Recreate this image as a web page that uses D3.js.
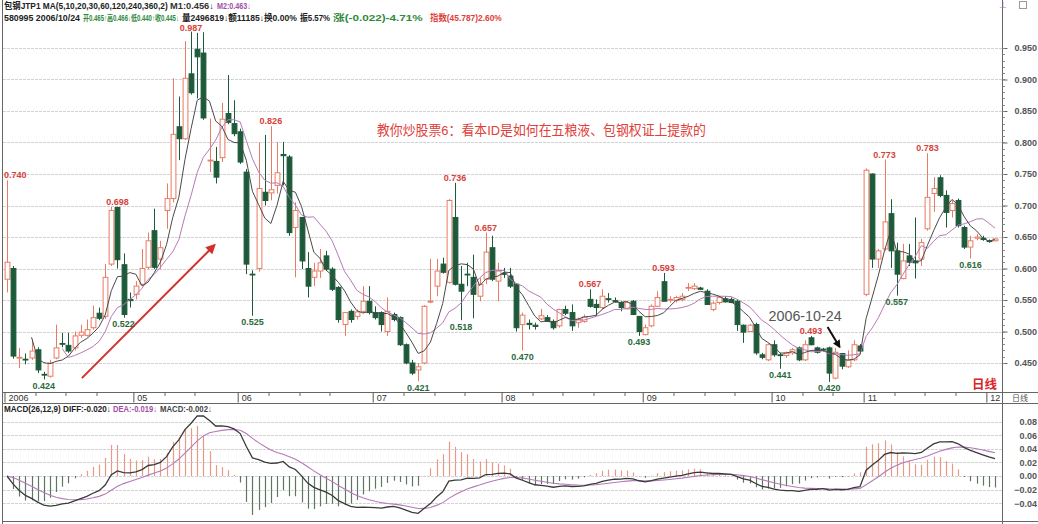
<!DOCTYPE html>
<html><head><meta charset="utf-8">
<script src="https://cdn.jsdelivr.net/npm/d3@7"></script>
<style>
body{margin:0;background:#fff}
svg{display:block}
text{font-family:"Liberation Sans",Arial,"Noto Sans CJK SC",sans-serif}
</style>
</head><body>
<svg id="c" width="1038" height="524"></svg>
<script>
// ---------- data ----------
const opens = [.583,.600,.458,.456,.458,.471,.432,.429,.458,.481,.478,.474,.494,.494,.506,.529,.524,.607,.697,.606,
.551,.559,.575,.602,.660,.615,.692,.711,.825,.806,.909,.948,.942,.771,.770,.776,.846,.830,.817,.753,
.591,.600,.721,.720,.732,.781,.777,.665,.681,.600,.586,.596,.620,.599,.570,.511,.532,.524,.532,.548,
.530,.530,.500,.527,.522,.479,.450,.439,.450,.547,.572,.607,.578,.681,.575,.591,.586,.556,.583,.633,
.580,.592,.588,.575,.511,.513,.510,.520,.522,.516,.509,.535,.530,.514,.516,.551,.543,.538,.552,.549,
.546,.536,.548,.524,.495,.509,.540,.579,.551,.549,.551,.569,.568,.569,.564,.535,.546,.552,.551,.548,
.510,.500,.511,.463,.455,.479,.463,.462,.466,.474,.455,.490,.474,.472,.474,.426,.465,.444,.455,.477,
.559,.750,.615,.631,.687,.628,.584,.620,.612,.615,.663,.719,.744,.716,.692,.708,.665,.634,.648,.648,
.644,.644];
const highs = [.740,.604,.474,.465,.488,.475,.436,.455,.511,.498,.498,.500,.511,.519,.541,.538,.607,.698,.698,.624,
.562,.580,.631,.657,.695,.644,.735,.902,.873,.961,.976,.974,.975,.838,.793,.863,.907,.867,.822,.758,
.597,.800,.812,.826,.801,.801,.780,.705,.681,.626,.609,.631,.628,.602,.572,.530,.535,.535,.572,.572,
.540,.532,.554,.530,.524,.481,.455,.450,.542,.615,.615,.617,.710,.736,.604,.609,.622,.585,.657,.652,
.609,.601,.601,.577,.530,.519,.514,.536,.526,.519,.536,.541,.543,.522,.527,.567,.551,.567,.561,.554,
.548,.548,.550,.524,.511,.543,.564,.593,.556,.557,.561,.577,.577,.571,.567,.548,.556,.556,.554,.551,
.511,.512,.514,.466,.481,.486,.466,.468,.474,.476,.486,.493,.476,.474,.476,.474,.466,.470,.486,.480,
.759,.751,.631,.773,.710,.641,.639,.639,.681,.647,.783,.745,.748,.724,.708,.711,.668,.652,.655,.652,
.646,.648];
const lows = [.562,.457,.442,.448,.455,.434,.424,.427,.456,.475,.466,.470,.490,.492,.503,.518,.520,.604,.600,.522,
.538,.551,.572,.599,.599,.599,.663,.705,.772,.804,.876,.870,.836,.753,.735,.769,.829,.810,.766,.591,
.525,.595,.700,.708,.719,.732,.652,.586,.599,.554,.572,.585,.596,.564,.514,.493,.514,.519,.529,.527,
.519,.500,.493,.516,.477,.448,.431,.421,.448,.545,.556,.592,.576,.573,.518,.572,.521,.548,.575,.580,
.548,.585,.569,.500,.470,.503,.503,.518,.515,.503,.506,.526,.501,.506,.514,.538,.525,.535,.546,.546,
.532,.535,.526,.493,.494,.507,.539,.548,.546,.546,.548,.564,.566,.566,.542,.532,.543,.546,.545,.501,
.482,.500,.463,.456,.453,.460,.441,.458,.463,.453,.453,.478,.465,.468,.420,.424,.440,.442,.453,.466,
.556,.601,.601,.628,.601,.557,.583,.604,.584,.604,.660,.690,.713,.665,.681,.665,.631,.616,.645,.644,
.641,.643];
const closes = [.610,.461,.459,.455,.469,.439,.431,.450,.474,.480,.469,.493,.499,.503,.522,.521,.586,.692,.614,.527,
.549,.572,.600,.644,.602,.633,.711,.813,.806,.902,.879,.936,.839,.772,.745,.837,.832,.814,.769,.607,
.590,.727,.708,.725,.752,.779,.657,.692,.612,.572,.596,.609,.599,.567,.519,.530,.519,.531,.548,.530,
.522,.511,.532,.519,.479,.450,.434,.444,.540,.548,.596,.594,.708,.575,.564,.590,.559,.575,.626,.583,
.596,.591,.572,.506,.526,.511,.508,.525,.516,.506,.535,.529,.509,.519,.523,.540,.538,.556,.551,.548,
.538,.546,.527,.500,.506,.540,.554,.548,.551,.554,.556,.570,.572,.567,.543,.545,.554,.547,.546,.511,
.499,.510,.466,.459,.479,.463,.462,.466,.471,.455,.479,.479,.467,.471,.434,.467,.445,.455,.479,.469,
.756,.615,.628,.674,.628,.591,.612,.610,.609,.641,.713,.727,.716,.689,.703,.668,.634,.644,.650,.646,
.643,.647];

// month start positions (candle index) and tick labels
const monthStartIdx = [0,21,38,60,81,104,125,140,160];
const monthLabels   = ["2006","05","06","07","08","09","10","11","12"];
const priceTicks = [0.45,0.50,0.55,0.60,0.65,0.70,0.75,0.80,0.85,0.90,0.95];
const macdTicks  = [-0.04,-0.02,0.00,0.02,0.04,0.06,0.08];

// high / low value marks
const markIdx  = [0,6,18,19,30,43,40,73,78,74,67,84,95,103,107,126,131,134,143,145,150,157];
const markText = ["0.740","0.424","0.698","0.522","0.987","0.826","0.525","0.736","0.657","0.518","0.421","0.470","0.567","0.493","0.593","0.441","0.493","0.420","0.773","0.557","0.783","0.616"];
const markSide = ["H","L","H","L","H","H","L","H","H","L","L","L","H","L","H","L","H","L","H","L","H","L"];

const cursorIdx = 136; // 2006-10-24

// ---------- indicators derived from closes ----------
function sma(arr, n){ return arr.map((v,i)=> i<n-1 ? null : d3.mean(arr.slice(i-n+1,i+1))); }
function ema(arr, n){ const a=2/(n+1); let out=[]; arr.forEach((v,i)=>{ out.push(i===0?v:out[i-1]+a*(v-out[i-1])); }); return out; }
const ma5 = sma(closes,5), ma10 = sma(closes,10);
const e12 = ema(closes,12), e26 = ema(closes,26);
const diff = e12.map((v,i)=>v-e26[i]);
const dea = ema(diff,9);
const hist = diff.map((v,i)=>2*(v-dea[i]));

// ---------- drawing ----------
const N = closes.length;
const svg = d3.select("#c");
const x = d3.scaleLinear().domain([0,N-1]).range([7,995]);
const y = d3.scaleLinear().domain([0.45,0.95]).range([363,48]);
const ym = d3.scaleLinear().domain([0,0.08]).range([476,421.6]);

const UP="#ea7a62", DOWN="#1c5a3a", GRID="#d2d2d2";
const defs = svg.append("defs");
defs.append("clipPath").attr("id","mainClip").append("rect").attr("x",3).attr("y",22).attr("width",999).attr("height",370);
defs.append("clipPath").attr("id","macdClip").append("rect").attr("x",3).attr("y",404).attr("width",999).attr("height",117);
defs.append("marker").attr("id","arrRed").attr("viewBox","0 0 10 10").attr("refX",8).attr("refY",5)
  .attr("markerWidth",5).attr("markerHeight",5).attr("orient","auto")
  .append("path").attr("d","M0,0L10,5L0,10z").attr("fill","#d3302c");
defs.append("marker").attr("id","arrBlk").attr("viewBox","0 0 10 10").attr("refX",8).attr("refY",5)
  .attr("markerWidth",4).attr("markerHeight",4).attr("orient","auto")
  .append("path").attr("d","M0,0L10,5L0,10z").attr("fill","#111");

// gridlines
svg.append("g").selectAll("line").data(priceTicks).join("line")
  .attr("x1",3).attr("x2",1002).attr("y1",d=>Math.round(y(d))+0.5).attr("y2",d=>Math.round(y(d))+0.5)
  .attr("stroke",GRID).attr("stroke-dasharray","3,1");
svg.append("g").selectAll("line").data(macdTicks).join("line")
  .attr("x1",3).attr("x2",1002).attr("y1",d=>Math.round(ym(d))+0.5).attr("y2",d=>Math.round(ym(d))+0.5)
  .attr("stroke",GRID).attr("stroke-dasharray","3,1");

// frame lines
const frame = svg.append("g").attr("stroke","#666").attr("stroke-width",1);
frame.append("line").attr("x1",2.5).attr("x2",2.5).attr("y1",0).attr("y2",524);
frame.append("line").attr("x1",1002.5).attr("x2",1002.5).attr("y1",0).attr("y2",524);
frame.append("line").attr("x1",2).attr("x2",1038).attr("y1",392.5).attr("y2",392.5);
frame.append("line").attr("x1",2).attr("x2",1038).attr("y1",403.5).attr("y2",403.5);
frame.append("line").attr("x1",2).attr("x2",1038).attr("y1",521.5).attr("y2",521.5);

// candles
const main = svg.append("g").attr("clip-path","url(#mainClip)");
const bw = 4.8;
const idx = d3.range(N);
const cg = main.append("g").selectAll("g").data(idx).join("g");
cg.append("line").attr("x1",i=>Math.round(x(i))+0.5).attr("x2",i=>Math.round(x(i))+0.5)
  .attr("y1",i=>y(highs[i])).attr("y2",i=>y(lows[i]))
  .attr("stroke",i=>closes[i]>=opens[i]?UP:DOWN).attr("stroke-width",1);
cg.append("rect")
  .attr("x",i=>Math.round(x(i))+0.5-bw/2)
  .attr("y",i=>y(Math.max(opens[i],closes[i])))
  .attr("width",bw)
  .attr("height",i=>Math.max(0.8,Math.abs(y(opens[i])-y(closes[i]))))
  .attr("fill",i=>closes[i]>=opens[i]?"#fff":DOWN)
  .attr("stroke",i=>closes[i]>=opens[i]?UP:DOWN).attr("stroke-width",1);

// moving averages
const lineMain = d3.line().defined(d=>d!=null).x((d,i)=>x(i)).y(d=>y(d));
main.append("path").datum(ma10).attr("d",lineMain).attr("fill","none").attr("stroke","#b57ab8").attr("stroke-width",1);
main.append("path").datum(ma5).attr("d",lineMain).attr("fill","none").attr("stroke","#4a4a4a").attr("stroke-width",1);

// high / low labels
const labs = svg.append("g").selectAll("text").data(markIdx).join("text")
  .attr("x",i=>x(i)).attr("text-anchor","middle")
  .attr("y",(i,k)=> markSide[k]==="H" ? Math.max(31, y(highs[i])-2) : y(lows[i])+9.5)
  .attr("font-size",9).attr("font-weight","bold")
  .attr("fill",(i,k)=> markSide[k]==="H" ? "#d8413a" : "#2a6a3c")
  .text((i,k)=>markText[k]);
labs.each(function(){ const b=this.getBBox(); if(b.x<4){ d3.select(this).attr("text-anchor","start").attr("x",4); } });

// red trend arrow (data coordinates)
main.append("line").attr("x1",x(12.2)).attr("y1",y(0.426)).attr("x2",x(33.8)).attr("y2",y(0.637))
  .attr("stroke","#d3302c").attr("stroke-width",2).attr("marker-end","url(#arrRed)");

// annotation text
main.append("text").attr("x",377).attr("y",135).attr("font-size",13.5).attr("fill","#e0403a")
  .attr("font-family","'Noto Sans CJK SC',sans-serif").attr("textLength",329).attr("lengthAdjust","spacingAndGlyphs")
  .text("教你炒股票6：看本ID是如何在五粮液、包钢权证上提款的");

// 2006-10-24 pointer
main.append("text").attr("x",x(cursorIdx)-73).attr("y",321).attr("font-size",14).attr("fill","#555")
  .attr("textLength",73).attr("lengthAdjust","spacingAndGlyphs").text("2006-10-24");
main.append("line").attr("x1",x(cursorIdx)-14).attr("y1",327).attr("x2",x(cursorIdx)-2).attr("y2",y(highs[cursorIdx])-6)
  .attr("stroke","#111").attr("stroke-width",2).attr("marker-end","url(#arrBlk)");

// 日线 tag
svg.append("text").attr("x",997).attr("y",389).attr("text-anchor","end").attr("font-size",12.5).attr("font-weight","bold")
  .attr("fill","#d8252a").attr("font-family","'Noto Sans CJK SC',sans-serif").text("日线");

// price axis (right)
const pa = svg.append("g").attr("transform","translate(1002.5,0)")
  .call(d3.axisRight(y).tickValues(priceTicks).tickFormat(d3.format(".3f")).tickSize(5).tickPadding(3));
pa.select(".domain").remove();
pa.selectAll("line").attr("stroke","#666");
pa.selectAll("text").attr("text-anchor","end").attr("x",34.5).attr("font-size",9).attr("fill","#555").attr("font-weight","bold");
svg.append("g").selectAll("line").data(d3.range(0.45,0.955,0.01)).join("line")
  .attr("x1",1002.5).attr("x2",1005).attr("y1",d=>Math.round(y(d))+0.5).attr("y2",d=>Math.round(y(d))+0.5).attr("stroke","#888");

// date axis
const da = svg.append("g").attr("transform","translate(0,392.5)")
  .call(d3.axisBottom(x).tickValues(monthStartIdx).tickFormat((d,i)=>monthLabels[i]).tickSize(10).tickPadding(0));
da.select(".domain").remove();
da.selectAll("line").attr("stroke","#555").attr("transform","translate(-2.5,0)");
da.selectAll("text").attr("text-anchor","start").attr("dx",1).attr("y",2.5).attr("dy","0.71em").attr("font-size",9).attr("fill","#333");
const minor=[];
monthStartIdx.forEach((s,k)=>{ const e = k<monthStartIdx.length-1?monthStartIdx[k+1]:N+3; for(let j=s+5;j<e-2;j+=5) minor.push(j); });
svg.append("g").selectAll("line").data(minor).join("line")
  .attr("x1",i=>Math.round(x(i))-2).attr("x2",i=>Math.round(x(i))-2).attr("y1",393).attr("y2",396).attr("stroke","#666");
svg.append("text").attr("x",1020).attr("y",401).attr("text-anchor","middle").attr("font-size",8).attr("fill","#555")
  .attr("font-family","'Noto Sans CJK SC',sans-serif").text("日线");

// MACD panel
const mg = svg.append("g").attr("clip-path","url(#macdClip)");
mg.append("g").selectAll("line").data(idx).join("line")
  .attr("x1",i=>Math.round(x(i))+0.5).attr("x2",i=>Math.round(x(i))+0.5)
  .attr("y1",ym(0)).attr("y2",i=>ym(hist[i]))
  .attr("stroke",i=>hist[i]>=0?"#e99a86":"#5d7862").attr("stroke-width",1.2);
const lineM = d3.line().x((d,i)=>x(i)).y(d=>ym(d));
mg.append("path").datum(dea).attr("d",lineM).attr("fill","none").attr("stroke","#b57ab8").attr("stroke-width",1.1);
mg.append("path").datum(diff).attr("d",lineM).attr("fill","none").attr("stroke","#3a3a3a").attr("stroke-width",1.3);

const ma_ = svg.append("g").attr("transform","translate(1002.5,0)")
  .call(d3.axisRight(ym).tickValues(macdTicks).tickFormat(d3.format(".2f")).tickSize(0).tickPadding(3));
ma_.select(".domain").remove();
ma_.selectAll("text").attr("text-anchor","end").attr("x",34.5).attr("font-size",9).attr("fill","#555").attr("font-weight","bold");

// headers: each segment placed at its start and fitted horizontally into the room it has
function seg(g, x0, yb, w, txt, col){
  const t = g.append("text").attr("x",0).attr("y",0).attr("font-size",9).attr("font-weight","bold").attr("fill",col).text(txt);
  const L = t.node().getComputedTextLength();
  let sx = w/L;
  if (sx < 0.72){ t.attr("font-size", (9*sx/0.72).toFixed(2)); sx = 0.72; }
  if (sx > 1.3) sx = 1.3;
  t.attr("transform",`translate(${x0},${yb}) scale(${sx.toFixed(3)},1)`);
}
const hd = svg.append("g");
seg(hd,4,9,164,"包钢JTP1 MA(5,10,20,30,60,120,240,360,2)","#222");
seg(hd,170,9,44,"M1:0.456↓","#333");
seg(hd,217,9,34,"M2:0.463↓","#a04fa5");
seg(hd,4,21,76,"580995 2006/10/24","#222");
seg(hd,83,21,96,"开0.465↑高0.466↓低0.440↑收0.445↓","#2f8a3c");
seg(hd,182,21,115,"量2496819↓额11185↓换0.00%","#222");
seg(hd,300,21,30,"振5.57%","#222");
seg(hd,333,21,93,"涨(-0.022)-4.71%","#2f8a3c");
seg(hd,430,21,72,"指数(45.787)2.60%","#e0403a");
seg(hd,4,412,107,"MACD(26,12,9) DIFF:-0.020↓","#222");
seg(hd,113,412,44,"DEA:-0.019↓","#a04fa5");
seg(hd,160,412,52,"MACD:-0.002↓","#444");

// tiny corner icons
svg.append("text").attr("x",1003).attr("y",8).attr("text-anchor","middle").attr("font-size",8).attr("fill","#c070b0").text("⊥");
svg.append("rect").attr("x",1019.5).attr("y",1.5).attr("width",7).attr("height",7).attr("fill","none").attr("stroke","#999");
</script>
</body></html>
